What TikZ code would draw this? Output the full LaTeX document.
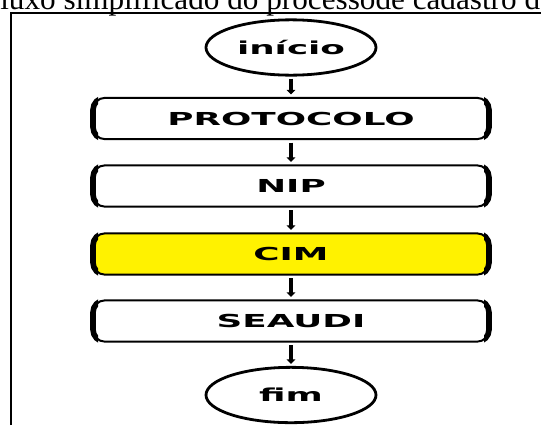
\documentclass[tikz,border=0pt]{standalone}
\usepackage{fontspec}
\usepackage{graphicx}
\usetikzlibrary{shapes.geometric,arrows.meta}
\setmainfont{Liberation Serif}
\newfontfamily\flowfont{DejaVu Sans}

\tikzset{
  px/.style={x=0.75pt,y=-0.75pt},
  stage/.style={draw=black, line width=1.5pt, rounded corners=9pt,
    minimum width=297pt, minimum height=31pt, inner sep=0pt, outer sep=0pt},
  terminal/.style={draw=black, ellipse, line width=2.1pt, inner sep=0pt, outer sep=0pt,
    minimum width=127.5pt, minimum height=41.5pt},
  flow/.style={line width=3pt, -{Triangle[width=6.5pt,length=3.5pt]},
    shorten <=2.5pt, shorten >=2.5pt},
  lbl/.style={font=\flowfont\bfseries\fontsize{13.4}{14}\selectfont},
  endcap/.style={line width=4.2pt, rounded corners=9pt}
}
\newcommand{\wide}[1]{\scalebox{2}[1]{#1}}

\begin{document}
\begin{tikzpicture}[px]
\useasboundingbox (0,0) rectangle (541,425);
\clip (0,0) rectangle (541,425);

% heading, partly cut by the page edge
\node[anchor=base west, inner sep=0pt, font=\fontsize{23.4}{24}\selectfont]
  (caption) at (0,9) {luxo simplificado do processode cadastro d};

% frame
\draw[line width=1.1pt] (11,425) -- (11,13) -- (541,13);

% flow
\node[terminal, lbl] (start) at (291,47.5) {\wide{início}};
\node[stage, lbl] (prot) at (291,118.5) {\wide{PROTOCOLO}};
\node[stage, lbl] (nip) at (291,186) {\wide{NIP}};
\node[stage, lbl, fill=yellow] (cim) at (291,254) {\wide{CIM}};
\node[stage, lbl] (seaudi) at (291,321) {\wide{SEAUDI}};
\node[terminal, lbl] (stop) at (291,395) {\wide{fim}};

% heavy left and right ends of the boxes
\begin{scope}
  \clip (75,90) rectangle (98,350);
  \foreach \n in {prot,nip,cim,seaudi}
    \draw[endcap] (\n.north west) rectangle (\n.south east);
\end{scope}
\begin{scope}
  \clip (484,90) rectangle (505,350);
  \foreach \n in {prot,nip,cim,seaudi}
    \draw[endcap] (\n.north west) rectangle (\n.south east);
\end{scope}

\draw[flow] (start.south) -- (prot.north);
\draw[flow] (prot.south) -- (nip.north);
\draw[flow] (nip.south) -- (cim.north);
\draw[flow] (cim.south) -- (seaudi.north);
\draw[flow] (seaudi.south) -- (stop.north);
\end{tikzpicture}
\end{document}
